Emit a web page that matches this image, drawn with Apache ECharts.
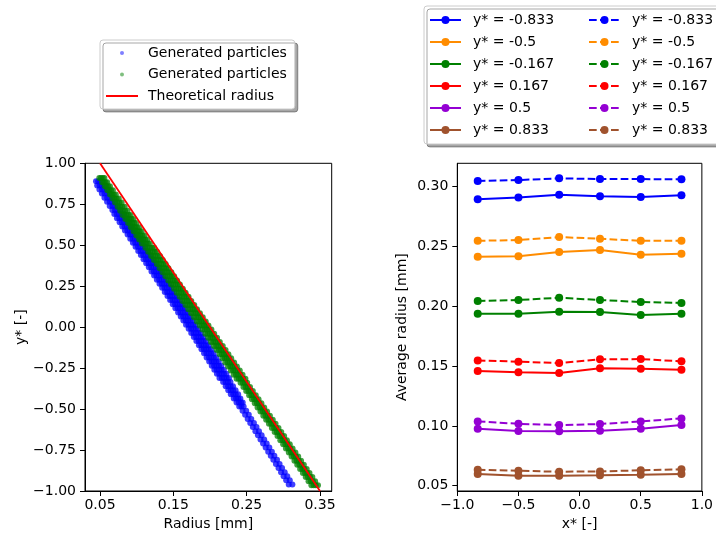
<!DOCTYPE html>
<html>
<head>
<meta charset="utf-8">
<script src="https://cdn.jsdelivr.net/npm/echarts@6/dist/echarts.min.js"></script>
<style>
  html, body { margin: 0; padding: 0; background: #fff; }
  #chart { width: 716px; height: 538px; }
</style>
</head>
<body>
<div id="chart"></div>
<script>
// ---------- left panel: particle radius against y* ----------
// each row: [y*, radius, radius, ...] in mm
const particlesBlue = [
  [0.89, 0.0445, 0.0475, 0.0505],
  [0.865, 0.0461, 0.0494, 0.0524, 0.0553],
  [0.84, 0.0492, 0.0528, 0.0560, 0.0594],
  [0.815, 0.0525, 0.0562, 0.0597, 0.0632],
  [0.79, 0.0560, 0.0597, 0.0633, 0.0670],
  [0.765, 0.0596, 0.0633, 0.0669, 0.0706],
  [0.74, 0.0632, 0.0669, 0.0705, 0.0742],
  [0.715, 0.0668, 0.0705, 0.0741, 0.0778],
  [0.69, 0.0695, 0.0727, 0.0760, 0.0793, 0.0825],
  [0.665, 0.0731, 0.0763, 0.0796, 0.0829, 0.0861],
  [0.64, 0.0767, 0.0799, 0.0832, 0.0865, 0.0897],
  [0.615, 0.0803, 0.0835, 0.0868, 0.0901, 0.0933],
  [0.59, 0.0840, 0.0872, 0.0905, 0.0938, 0.0970],
  [0.565, 0.0876, 0.0908, 0.0941, 0.0974, 0.1006],
  [0.54, 0.0912, 0.0944, 0.0977, 0.1010, 0.1042],
  [0.515, 0.0948, 0.0980, 0.1013, 0.1046, 0.1078],
  [0.49, 0.0985, 0.1017, 0.1050, 0.1083, 0.1115],
  [0.465, 0.1021, 0.1053, 0.1086, 0.1119, 0.1151],
  [0.44, 0.1057, 0.1089, 0.1122, 0.1155, 0.1187],
  [0.415, 0.1093, 0.1125, 0.1158, 0.1191, 0.1223],
  [0.39, 0.1130, 0.1162, 0.1195, 0.1228, 0.1260],
  [0.365, 0.1166, 0.1198, 0.1231, 0.1264, 0.1296],
  [0.34, 0.1202, 0.1234, 0.1267, 0.1300, 0.1332],
  [0.315, 0.1238, 0.1270, 0.1303, 0.1336, 0.1368],
  [0.29, 0.1275, 0.1307, 0.1340, 0.1373, 0.1405],
  [0.265, 0.1311, 0.1343, 0.1376, 0.1409, 0.1441],
  [0.24, 0.1347, 0.1379, 0.1412, 0.1445, 0.1477],
  [0.215, 0.1383, 0.1415, 0.1448, 0.1481, 0.1513],
  [0.19, 0.1420, 0.1452, 0.1485, 0.1518, 0.1550],
  [0.165, 0.1456, 0.1488, 0.1521, 0.1554, 0.1586],
  [0.14, 0.1492, 0.1524, 0.1557, 0.1590, 0.1622],
  [0.115, 0.1528, 0.1560, 0.1593, 0.1626, 0.1658],
  [0.09, 0.1565, 0.1597, 0.1630, 0.1663, 0.1695],
  [0.065, 0.1601, 0.1633, 0.1666, 0.1699, 0.1731],
  [0.04, 0.1637, 0.1669, 0.1702, 0.1735, 0.1767],
  [0.015, 0.1673, 0.1705, 0.1738, 0.1771, 0.1803],
  [-0.01, 0.1709, 0.1741, 0.1774, 0.1807, 0.1839],
  [-0.035, 0.1744, 0.1776, 0.1809, 0.1842, 0.1874],
  [-0.06, 0.1779, 0.1811, 0.1844, 0.1877, 0.1909],
  [-0.085, 0.1814, 0.1846, 0.1879, 0.1912, 0.1944],
  [-0.11, 0.1849, 0.1881, 0.1914, 0.1947, 0.1979],
  [-0.135, 0.1884, 0.1916, 0.1949, 0.1982, 0.2014],
  [-0.16, 0.1919, 0.1951, 0.1984, 0.2017, 0.2049],
  [-0.185, 0.1954, 0.1986, 0.2019, 0.2052, 0.2084],
  [-0.21, 0.1989, 0.2021, 0.2054, 0.2087, 0.2119],
  [-0.235, 0.2024, 0.2056, 0.2089, 0.2122, 0.2154],
  [-0.26, 0.2059, 0.2091, 0.2124, 0.2157, 0.2189],
  [-0.285, 0.2094, 0.2126, 0.2159, 0.2192, 0.2224],
  [-0.31, 0.2129, 0.2161, 0.2194, 0.2227, 0.2259],
  [-0.335, 0.2179, 0.2212, 0.2246, 0.2279],
  [-0.36, 0.2214, 0.2247, 0.2281, 0.2314],
  [-0.385, 0.2249, 0.2282, 0.2316, 0.2349],
  [-0.41, 0.2284, 0.2317, 0.2351, 0.2384],
  [-0.435, 0.2324, 0.2355, 0.2386, 0.2414],
  [-0.46, 0.2362, 0.2393, 0.2424, 0.2446],
  [-0.485, 0.2399, 0.2429, 0.2459],
  [-0.51, 0.2444, 0.2494],
  [-0.535, 0.2479, 0.2529],
  [-0.56, 0.2514, 0.2563],
  [-0.585, 0.2549, 0.2599],
  [-0.61, 0.2584, 0.2634],
  [-0.635, 0.2619, 0.2668],
  [-0.66, 0.2654, 0.2704],
  [-0.685, 0.2689, 0.2739],
  [-0.71, 0.2724, 0.2773],
  [-0.735, 0.2759, 0.2809],
  [-0.76, 0.2794, 0.2844],
  [-0.785, 0.2829, 0.2878],
  [-0.81, 0.2864, 0.2914],
  [-0.835, 0.2899, 0.2949],
  [-0.86, 0.2934, 0.2983],
  [-0.885, 0.2969, 0.3019],
  [-0.91, 0.3004, 0.3054],
  [-0.935, 0.3039, 0.3088],
  [-0.96, 0.3074, 0.3124]
];

const particlesGreen = [
  [0.91, 0.0490, 0.0513, 0.0537, 0.0560],
  [0.885, 0.0528, 0.0551, 0.0575, 0.0598],
  [0.86, 0.0565, 0.0588, 0.0612, 0.0635],
  [0.835, 0.0600, 0.0625, 0.0650, 0.0675],
  [0.81, 0.0635, 0.0661, 0.0688, 0.0715],
  [0.785, 0.0670, 0.0698, 0.0727, 0.0755],
  [0.76, 0.0705, 0.0735, 0.0765, 0.0795],
  [0.735, 0.0740, 0.0772, 0.0804, 0.0836],
  [0.71, 0.0775, 0.0808, 0.0842, 0.0875],
  [0.685, 0.0808, 0.0835, 0.0863, 0.0891, 0.0918],
  [0.66, 0.0845, 0.0872, 0.0900, 0.0928, 0.0955],
  [0.635, 0.0883, 0.0910, 0.0938, 0.0966, 0.0993],
  [0.61, 0.0920, 0.0947, 0.0975, 0.1003, 0.1030],
  [0.585, 0.0958, 0.0985, 0.1013, 0.1041, 0.1068],
  [0.56, 0.0995, 0.1022, 0.1050, 0.1078, 0.1105],
  [0.535, 0.1033, 0.1060, 0.1088, 0.1116, 0.1143],
  [0.51, 0.1070, 0.1097, 0.1125, 0.1153, 0.1180],
  [0.485, 0.1119, 0.1149, 0.1179, 0.1209, 0.1239],
  [0.46, 0.1157, 0.1187, 0.1217, 0.1247, 0.1277],
  [0.435, 0.1197, 0.1227, 0.1257, 0.1287, 0.1317],
  [0.41, 0.1235, 0.1265, 0.1295, 0.1325, 0.1355],
  [0.385, 0.1275, 0.1305, 0.1335, 0.1365, 0.1395],
  [0.36, 0.1313, 0.1343, 0.1373, 0.1403, 0.1433],
  [0.335, 0.1353, 0.1383, 0.1413, 0.1443, 0.1473],
  [0.31, 0.1391, 0.1421, 0.1451, 0.1481, 0.1511],
  [0.285, 0.1431, 0.1461, 0.1491, 0.1521, 0.1551],
  [0.26, 0.1469, 0.1499, 0.1529, 0.1559, 0.1589],
  [0.235, 0.1509, 0.1539, 0.1569, 0.1599, 0.1629],
  [0.21, 0.1547, 0.1577, 0.1607, 0.1637, 0.1667],
  [0.185, 0.1587, 0.1617, 0.1647, 0.1677, 0.1707],
  [0.16, 0.1625, 0.1655, 0.1685, 0.1715, 0.1745],
  [0.135, 0.1665, 0.1695, 0.1725, 0.1755, 0.1785],
  [0.11, 0.1703, 0.1733, 0.1763, 0.1793, 0.1823],
  [0.085, 0.1743, 0.1773, 0.1803, 0.1833, 0.1863],
  [0.06, 0.1781, 0.1811, 0.1841, 0.1871, 0.1901],
  [0.035, 0.1821, 0.1851, 0.1881, 0.1911, 0.1941],
  [0.01, 0.1859, 0.1889, 0.1919, 0.1949, 0.1979],
  [-0.015, 0.1899, 0.1929, 0.1959, 0.1989, 0.2019],
  [-0.04, 0.1937, 0.1967, 0.1997, 0.2027, 0.2057],
  [-0.065, 0.1976, 0.2006, 0.2036, 0.2066, 0.2096],
  [-0.09, 0.2014, 0.2044, 0.2074, 0.2104, 0.2134],
  [-0.115, 0.2054, 0.2084, 0.2114, 0.2144, 0.2174],
  [-0.14, 0.2092, 0.2122, 0.2152, 0.2182, 0.2212],
  [-0.165, 0.2131, 0.2161, 0.2191, 0.2221, 0.2251],
  [-0.19, 0.2169, 0.2199, 0.2229, 0.2259, 0.2289],
  [-0.215, 0.2209, 0.2239, 0.2269, 0.2299, 0.2329],
  [-0.24, 0.2247, 0.2277, 0.2307, 0.2337, 0.2367],
  [-0.265, 0.2286, 0.2316, 0.2346, 0.2376, 0.2406],
  [-0.29, 0.2324, 0.2354, 0.2384, 0.2414, 0.2444],
  [-0.315, 0.2363, 0.2393, 0.2423, 0.2453, 0.2483],
  [-0.34, 0.2417, 0.2447, 0.2477, 0.2507],
  [-0.365, 0.2456, 0.2486, 0.2516, 0.2546],
  [-0.39, 0.2494, 0.2524, 0.2554, 0.2584],
  [-0.415, 0.2534, 0.2564, 0.2594, 0.2624],
  [-0.44, 0.2572, 0.2602, 0.2632, 0.2662],
  [-0.465, 0.2611, 0.2641, 0.2671, 0.2701],
  [-0.49, 0.2649, 0.2679, 0.2709, 0.2739],
  [-0.515, 0.2688, 0.2718, 0.2748, 0.2778],
  [-0.54, 0.2727, 0.2757, 0.2787, 0.2817],
  [-0.565, 0.2766, 0.2796, 0.2826, 0.2856],
  [-0.59, 0.2804, 0.2834, 0.2864, 0.2894],
  [-0.615, 0.2844, 0.2874, 0.2904, 0.2934],
  [-0.64, 0.2882, 0.2912, 0.2942, 0.2972],
  [-0.665, 0.2921, 0.2951, 0.2981, 0.3011],
  [-0.69, 0.2959, 0.2989, 0.3019, 0.3049],
  [-0.715, 0.2998, 0.3028, 0.3058, 0.3088],
  [-0.74, 0.3036, 0.3066, 0.3096, 0.3126],
  [-0.765, 0.3075, 0.3105, 0.3135, 0.3165],
  [-0.79, 0.3113, 0.3143, 0.3173, 0.3203],
  [-0.815, 0.3152, 0.3182, 0.3212, 0.3242],
  [-0.84, 0.3190, 0.3220, 0.3250, 0.3280],
  [-0.865, 0.3229, 0.3259, 0.3289, 0.3319],
  [-0.89, 0.3267, 0.3297, 0.3327, 0.3357],
  [-0.915, 0.3306, 0.3336, 0.3366, 0.3396],
  [-0.94, 0.3344, 0.3374, 0.3404, 0.3434],
  [-0.965, 0.3383, 0.3413, 0.3443, 0.3473]
];

// theoretical radius: straight line between its two end points
const theoryRadius = [0.05, 0.35];
const theoryYStar = [1.0, -1.0];

// ---------- right panel: average radius against x* ----------
const xStar = [-0.833, -0.5, -0.167, 0.167, 0.5, 0.833];
const yStarLabels = ['-0.833', '-0.5', '-0.167', '0.167', '0.5', '0.833'];
const avgRadiusSolid = [
  [0.2895, 0.2911, 0.2933, 0.2920, 0.2914, 0.2928],
  [0.2415, 0.2418, 0.2454, 0.2471, 0.2431, 0.2440],
  [0.1938, 0.1938, 0.1955, 0.1952, 0.1927, 0.1938],
  [0.1459, 0.1448, 0.1442, 0.1482, 0.1478, 0.1470],
  [0.0977, 0.0957, 0.0955, 0.0960, 0.0977, 0.1008],
  [0.0598, 0.0584, 0.0584, 0.0587, 0.0592, 0.0598]
];
const avgRadiusDashed = [
  [0.3048, 0.3056, 0.3070, 0.3064, 0.3064, 0.3062],
  [0.2548, 0.2554, 0.2579, 0.2565, 0.2548, 0.2548],
  [0.2044, 0.2053, 0.2072, 0.2053, 0.2036, 0.2028],
  [0.1548, 0.1537, 0.1526, 0.1557, 0.1559, 0.1540],
  [0.1038, 0.1018, 0.1007, 0.1016, 0.1038, 0.1063],
  [0.0634, 0.0625, 0.0617, 0.0620, 0.0629, 0.0637]
];

// tick positions
const leftXTicks = [0.05, 0.15, 0.25, 0.35];
const leftYTicks = [-1.0, -0.75, -0.5, -0.25, 0.0, 0.25, 0.5, 0.75, 1.0];
const rightXTicks = [-1.0, -0.5, 0.0, 0.5, 1.0];
const rightYTicks = [0.05, 0.10, 0.15, 0.20, 0.25, 0.30];

// ---------- styling ----------
const FONT = 'DejaVu Sans';
const FS = 14;
const levelColors = ['#0000ff', '#ff8c00', '#008000', '#ff0000', '#9400d3', '#a0522d'];
const dashPattern = [7.7, 3.3];

function tickText(digits) {
  return v => (v < 0 ? '\u2212' : '') + Math.abs(v).toFixed(digits);
}
function legendText(name) {
  return name.split('|')[0];
}

function axis(gridIndex, min, max, ticks, digits, name, nameGap, isY) {
  return {
    type: 'value',
    gridIndex, min, max,
    name, nameLocation: 'middle', nameGap,
    nameTextStyle: { fontFamily: FONT, fontSize: FS, color: '#000' },
    axisLine: { show: true, onZero: false, lineStyle: { color: '#000', width: 1 } },
    axisTick: { show: true, inside: false, length: 5, customValues: ticks,
                lineStyle: { color: '#000', width: 1 } },
    axisLabel: { show: true, customValues: ticks, formatter: tickText(digits),
                 fontFamily: FONT, fontSize: FS, color: '#000', margin: isY ? 9 : 7 },
    splitLine: { show: false }
  };
}

const toPoints = rows => rows.flatMap(row => row.slice(1).map(r => [r, row[0]]));

const series = [
  {
    type: 'scatter', name: 'Generated particles|blue',
    xAxisIndex: 0, yAxisIndex: 0,
    symbol: 'circle', symbolSize: 6,
    itemStyle: { color: '#0000ff', opacity: 0.75 },
    data: toPoints(particlesBlue)
  },
  {
    type: 'scatter', name: 'Generated particles|green',
    xAxisIndex: 0, yAxisIndex: 0,
    symbol: 'circle', symbolSize: 6,
    itemStyle: { color: '#008000', opacity: 0.75 },
    data: toPoints(particlesGreen)
  },
  {
    type: 'line', name: 'Theoretical radius',
    xAxisIndex: 0, yAxisIndex: 0,
    symbol: 'none',
    lineStyle: { color: '#ff0000', width: 1.8 },
    itemStyle: { color: '#ff0000' },
    data: theoryRadius.map((r, i) => [r, theoryYStar[i]])
  }
];

const solidNames = [];
const dashedNames = [];
yStarLabels.forEach((lab, i) => {
  const nm = 'y* = ' + lab;
  solidNames.push(nm);
  series.push({
    type: 'line', name: nm,
    xAxisIndex: 1, yAxisIndex: 1,
    symbol: 'circle', symbolSize: 8,
    lineStyle: { color: levelColors[i], width: 2 },
    itemStyle: { color: levelColors[i] },
    data: xStar.map((x, j) => [x, avgRadiusSolid[i][j]])
  });
});
yStarLabels.forEach((lab, i) => {
  const nm = 'y* = ' + lab + '|dashed';
  dashedNames.push(nm);
  series.push({
    type: 'line', name: nm,
    xAxisIndex: 1, yAxisIndex: 1,
    symbol: 'circle', symbolSize: 8,
    lineStyle: { color: levelColors[i], width: 2, type: dashPattern },
    itemStyle: { color: levelColors[i] },
    data: xStar.map((x, j) => [x, avgRadiusDashed[i][j]])
  });
});

const legendBox = {
  backgroundColor: '#fff', borderColor: '#cccccc', borderWidth: 1, borderRadius: 3,
  shadowColor: 'rgba(0,0,0,0.35)', shadowOffsetX: 3, shadowOffsetY: 3, shadowBlur: 0
};
function legendText14(padLeft) {
  return { fontFamily: FONT, fontSize: FS, color: '#000', padding: [0, 0, 0, padLeft] };
}

const option = {
  animation: false,
  backgroundColor: '#fff',
  grid: [
    { left: 85, top: 163.3, width: 246.7, height: 327.7, show: true,
      borderColor: '#000', borderWidth: 1, backgroundColor: 'transparent' },
    { left: 457.3, top: 163.3, width: 246, height: 327.7, show: true,
      borderColor: '#000', borderWidth: 1, backgroundColor: 'transparent' }
  ],
  xAxis: [
    axis(0, 0.0295, 0.366, leftXTicks, 2, 'Radius [mm]', 25, false),
    axis(1, -1.0, 1.0, rightXTicks, 1, 'x* [-]', 25, false)
  ],
  yAxis: [
    axis(0, -1.0, 1.0, leftYTicks, 2, 'y* [-]', 57, true),
    axis(1, 0.0456, 0.3196, rightYTicks, 2, 'Average radius [mm]', 48, true)
  ],
  legend: [
    Object.assign({
      orient: 'vertical', selectedMode: false, formatter: legendText,
      left: 100, top: 40, padding: [6, 8, 6, 5], itemGap: 7.5,
      itemWidth: 32, itemHeight: 4,
      textStyle: legendText14(5),
      data: [
        { name: 'Generated particles|blue', itemStyle: { opacity: 0.5 } },
        { name: 'Generated particles|green', itemStyle: { opacity: 0.5 } },
        { name: 'Theoretical radius', itemStyle: { opacity: 0 } }
      ]
    }, legendBox),
    Object.assign({
      orient: 'vertical', selectedMode: false, formatter: legendText,
      left: 424, top: 6, padding: [7, 320, 7, 5], itemGap: 8,
      itemWidth: 31, itemHeight: 10,
      textStyle: legendText14(7),
      data: solidNames
    }, legendBox),
    {
      orient: 'vertical', selectedMode: false, formatter: legendText,
      left: 583, top: 6, padding: [7, 5, 7, 5], itemGap: 8,
      itemWidth: 31, itemHeight: 10,
      textStyle: legendText14(7),
      data: dashedNames
    }
  ],
  series
};

const chart = echarts.init(document.getElementById('chart'), null, { renderer: 'canvas' });
chart.setOption(option);
</script>
</body>
</html>
